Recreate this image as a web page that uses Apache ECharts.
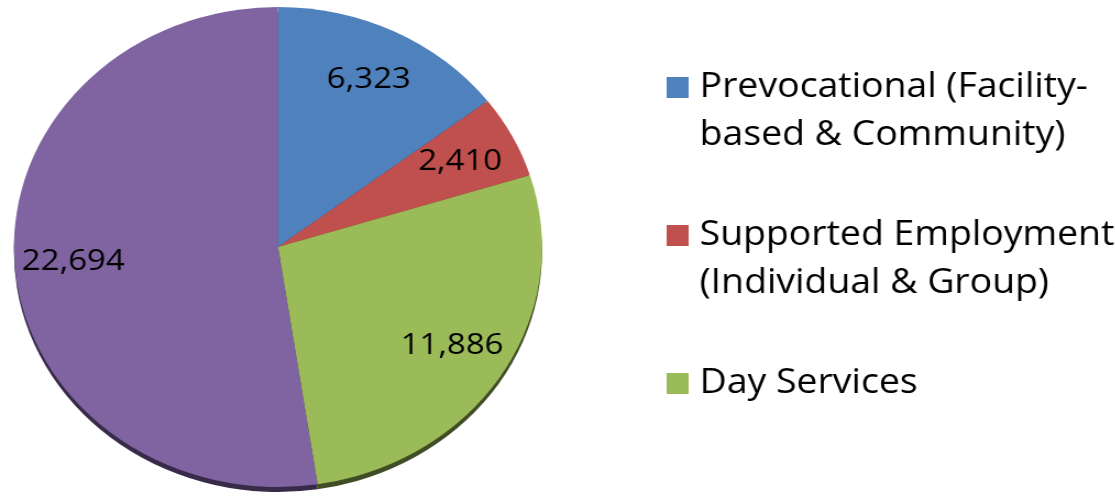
<!DOCTYPE html>
<html>
<head>
<meta charset="utf-8">
<script src="https://cdn.jsdelivr.net/npm/echarts@6/dist/echarts.min.js"></script>
<style>
html,body{margin:0;padding:0;background:#fff;overflow:hidden;}
#wrap{width:1115px;height:496px;overflow:hidden;background:#fff;}
#chart{width:1014px;height:496px;transform:scaleX(1.1);transform-origin:0 0;}
</style>
</head>
<body>
<div id="wrap"><div id="chart"></div></div>
<script>
const categories = ["Prevocational (Facility-\nbased & Community)", "Supported Employment\n(Individual & Group)", "Day Services", "Other"];
const values = [6323, 2410, 11886, 22694];
const legendNames = ["Prevocational (Facility-\nbased & Community)", "Supported Employment\n(Individual & Group)", "Day Services"];
const colors = ["#4F81BD", "#C0504D", "#9BBB59", "#8064A2"];
const rimColors = ["#2c4a70", "#6e2c2a", "#414d25", "#382b4a"];

const FONT = "Open Sans";
const C = [252.7, 247];
const R = 240;

const data = categories.map((n, i) => ({ name: n, value: values[i], itemStyle: { color: colors[i] } }));
const rimData = categories.map((n, i) => ({ name: n, value: values[i], itemStyle: { color: rimColors[i] } }));

const chart = echarts.init(document.getElementById('chart'), null, { renderer: 'canvas' });
chart.setOption({
  backgroundColor: '#ffffff',
  animation: false,
  legend: {
    orient: 'vertical',
    left: 606,
    top: 15.5,
    padding: 0,
    itemWidth: 20,
    itemHeight: 21,
    itemGap: 4,
    selectedMode: false,
    icon: 'rect',
    formatter: (n) => '\n' + n + (n.indexOf('\n') >= 0 ? '' : '\n'),
    textStyle: { fontFamily: FONT, fontSize: 34, lineHeight: 48, color: '#000', padding: [0, 0, 0, 5] },
    data: legendNames
  },
  series: [
    {
      name: 'main',
      type: 'pie',
      z: 3,
      center: C,
      radius: [0, R],
      startAngle: 90,
      clockwise: true,
      silent: true,
      label: { show: false },
      labelLine: { show: false },
      itemStyle: { borderWidth: 0 },
      data: data
    },
    {
      name: 'rim',
      type: 'pie',
      z: 1,
      center: [C[0], C[1] + 5],
      radius: [0, R],
      startAngle: 90,
      clockwise: true,
      silent: true,
      label: { show: false },
      labelLine: { show: false },
      itemStyle: { borderWidth: 0 },
      data: rimData
    },
    {
      name: 'labels',
      type: 'pie',
      z: 4,
      center: C,
      radius: [R * 0.53, R],
      startAngle: 90,
      clockwise: true,
      silent: true,
      itemStyle: { color: 'rgba(0,0,0,0)', borderWidth: 0 },
      label: {
        show: true,
        position: 'inside',
        fontFamily: FONT,
        fontSize: 30,
        color: '#000',
        formatter: (p) => p.value.toLocaleString('en-US')
      },
      labelLine: { show: false },
      data: categories.map((n, i) => ({ name: n, value: values[i] }))
    }
  ]
});
</script>
</body>
</html>
